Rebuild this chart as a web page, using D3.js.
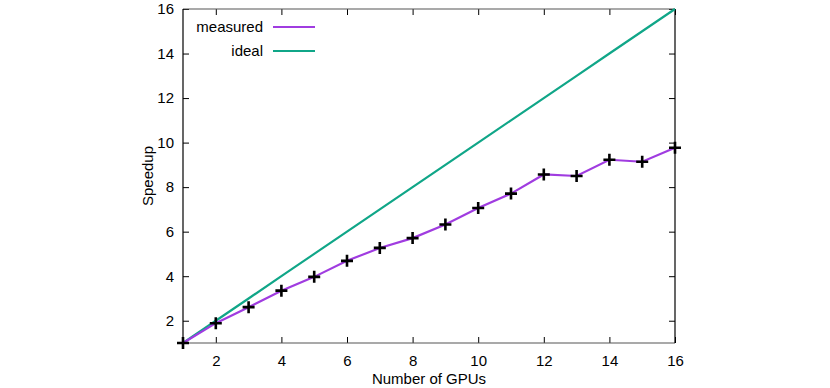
<!DOCTYPE html>
<html>
<head>
<meta charset="utf-8">
<script src="https://cdn.jsdelivr.net/npm/d3@7"></script>
<style>
    body { margin: 0; background: #fff; }
    text { font-family: "Liberation Sans", Arial, sans-serif; font-size: 15px; fill: #000; }
</style>
</head>
<body>
<div id="chart"></div>
<script>
// data
const gpus = [1, 2, 3, 4, 5, 6, 7, 8, 9, 10, 11, 12, 13, 14, 15, 16];
const measured = [1.0, 1.89, 2.61, 3.35, 3.97, 4.69, 5.27, 5.71, 6.32, 7.06, 7.71, 8.57, 8.50, 9.23, 9.14, 9.77];
const ideal = gpus.slice();
const ticks = [2, 4, 6, 8, 10, 12, 14, 16];

const seriesNames = ["measured", "ideal"];
const seriesColors = ["#a03ce0", "#10a688"];

// chart size
const W = 830, H = 388;
const margin = {top: 9, right: 155, bottom: 45, left: 183};
const width = W - margin.left - margin.right;
const height = H - margin.top - margin.bottom;

const svg = d3.select("#chart").append("svg")
    .attr("width", W)
    .attr("height", H);

const chart = svg.append("g")
    .attr("transform", "translate(" + margin.left + "," + margin.top + ")");

const x = d3.scaleLinear().domain([1, 16]).range([0, width]);
const y = d3.scaleLinear().domain([1, 16]).range([height, 0]);

// axes, ticks inward on all sides
const axisStyle = function (g) {
    g.select(".domain").remove();
    g.selectAll(".tick line").attr("stroke", "#000");
    g.selectAll(".tick text").style("font-size", "15px");
};

chart.append("g")
    .attr("transform", "translate(0," + height + ")")
    .call(d3.axisBottom(x).tickValues(ticks).tickSize(-6).tickPadding(12))
    .call(axisStyle);

chart.append("g")
    .call(d3.axisTop(x).tickValues(ticks).tickSize(-6).tickFormat(""))
    .call(axisStyle);

chart.append("g")
    .call(d3.axisLeft(y).tickValues(ticks).tickSize(-6).tickPadding(9))
    .call(axisStyle);

chart.append("g")
    .attr("transform", "translate(" + width + ",0)")
    .call(d3.axisRight(y).tickValues(ticks).tickSize(-6).tickFormat(""))
    .call(axisStyle);

// border
chart.append("line").attr("x1", 0).attr("x2", width).attr("y1", 0).attr("y2", 0)
    .attr("stroke", "#555").attr("stroke-width", 1.2);
chart.append("line").attr("x1", 0).attr("x2", width).attr("y1", height).attr("y2", height)
    .attr("stroke", "#555").attr("stroke-width", 1.2);
chart.append("line").attr("x1", 0).attr("x2", 0).attr("y1", 0).attr("y2", height)
    .attr("stroke", "#000").attr("stroke-width", 1.2);
chart.append("line").attr("x1", width).attr("x2", width).attr("y1", 0).attr("y2", height)
    .attr("stroke", "#000").attr("stroke-width", 1.2);

// lines
const line = d3.line()
    .x(function (d) { return x(d[0]); })
    .y(function (d) { return y(d[1]); });

chart.append("path")
    .datum(gpus.map(function (g, i) { return [g, ideal[i]]; }))
    .attr("d", line)
    .attr("fill", "none")
    .attr("stroke", seriesColors[1])
    .attr("stroke-width", 2.2);

chart.append("path")
    .datum(gpus.map(function (g, i) { return [g, measured[i]]; }))
    .attr("d", line)
    .attr("fill", "none")
    .attr("stroke", seriesColors[0])
    .attr("stroke-width", 2.2);

// "+" markers
const s = 6;
chart.selectAll(".pt")
    .data(gpus.map(function (g, i) { return [g, measured[i]]; }))
    .enter()
    .append("path")
    .attr("class", "pt")
    .attr("d", function (d) {
        const cx = x(d[0]), cy = y(d[1]);
        return "M" + (cx - s) + "," + cy + "H" + (cx + s) + "M" + cx + "," + (cy - s) + "V" + (cy + s);
    })
    .attr("stroke", "#000")
    .attr("stroke-width", 2.6);

// legend
const legend = chart.selectAll(".legend")
    .data(seriesNames)
    .enter()
    .append("g")
    .attr("class", "legend")
    .attr("transform", function (d, i) { return "translate(0," + (18 + i * 24) + ")"; });

legend.append("text")
    .attr("x", 80)
    .attr("dy", "0.35em")
    .attr("text-anchor", "end")
    .text(function (d) { return d; });

legend.append("line")
    .attr("x1", 90).attr("x2", 132)
    .attr("stroke", function (d, i) { return seriesColors[i]; })
    .attr("stroke-width", 2.2);

// axis titles
svg.append("text")
    .attr("x", margin.left + width / 2)
    .attr("y", 384)
    .attr("text-anchor", "middle")
    .text("Number of GPUs");

svg.append("text")
    .attr("transform", "translate(153," + (margin.top + height / 2) + ") rotate(-90)")
    .attr("text-anchor", "middle")
    .text("Speedup");
</script>
</body>
</html>
